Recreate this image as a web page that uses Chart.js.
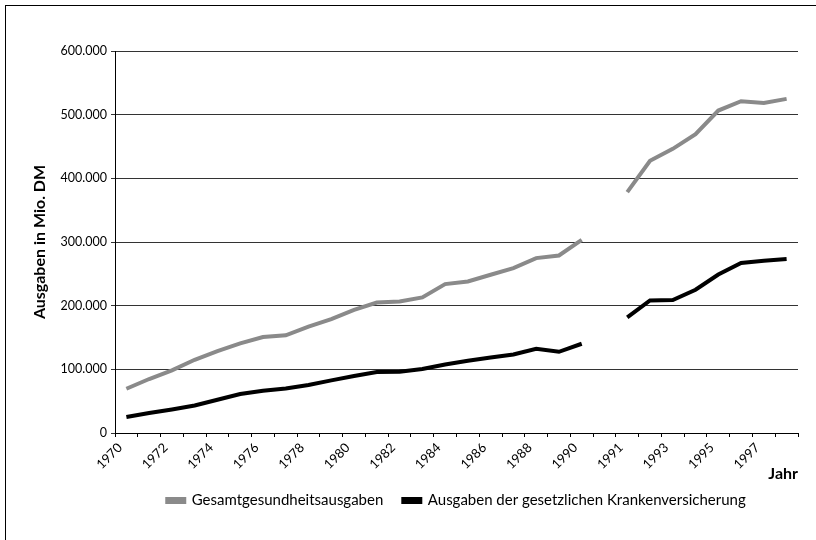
<!DOCTYPE html>
<html>
<head>
<meta charset="utf-8">
<script src="https://cdn.jsdelivr.net/npm/chart.js@4.4.0/dist/chart.umd.min.js"></script>
<style>
  body { margin: 0; background: #fff; overflow: hidden; }
  #wrap { position: relative; width: 816px; height: 540px; }
  #frame { position: absolute; left: 5px; top: 5px; width: 900px; height: 700px; border: 1px solid #000; }
  #myChart { position: absolute; left: 0; top: 0; }
</style>
</head>
<body>
<div id="wrap">
  <div id="frame"></div>
  <canvas id="myChart" width="816" height="540"></canvas>
</div>
<script>
// 30 slots: 1970-1990, an empty slot (break), 1991-1998
const years = [
  '1970', '1971', '1972', '1973', '1974', '1975', '1976', '1977', '1978', '1979',
  '1980', '1981', '1982', '1983', '1984', '1985', '1986', '1987', '1988', '1989',
  '1990', '', '1991', '1992', '1993', '1994', '1995', '1996', '1997', '1998'
];

// labels printed at every 2nd slot boundary
const tickLabels = [
  '1970', '1972', '1974', '1976', '1978', '1980', '1982', '1984', '1986', '1988',
  '1990', '1991', '1993', '1995', '1997'
];

// Mio. DM
const gesamt = [
  69500, 84800, 98300, 115000, 128700, 140700, 150700, 153500, 167000, 179000,
  193500, 205000, 206600, 212900, 233900, 238000, 248500, 259000, 274700, 278800,
  303500, null, 378300, 427500, 446300, 469400, 506500, 521200, 518500, 524800
];

const gkv = [
  25000, 31400, 37000, 43300, 52300, 61200, 66400, 70000, 75300, 82600,
  89500, 95700, 96200, 100400, 107700, 113500, 118700, 123400, 132300, 127600,
  140200, null, 181500, 208200, 208800, 225000, 249000, 266900, 270500, 273200
];

const yTicks = [0, 100000, 200000, 300000, 400000, 500000, 600000];

function toPoints(values) {
  return values.map((v, i) => ({ x: i + 0.5, y: v }));
}

function formatDE(v) {
  return String(v).replace(/\B(?=(\d{3})+(?!\d))/g, '.');
}

Chart.defaults.font.family = 'Lato, "Noto Sans", sans-serif';
Chart.defaults.color = '#000';

const ctx = document.querySelector('#myChart').getContext('2d');

const data = {
  datasets: [
    {
      label: 'Gesamtgesundheitsausgaben',
      data: toPoints(gesamt),
      borderColor: '#8a8a8a',
      backgroundColor: '#8a8a8a',
      borderWidth: 4,
      pointRadius: 0,
      spanGaps: false,
    },
    {
      label: 'Ausgaben der gesetzlichen Krankenversicherung',
      data: toPoints(gkv),
      borderColor: '#000',
      backgroundColor: '#000',
      borderWidth: 4,
      pointRadius: 0,
      spanGaps: false,
    },
  ],
};

const config = {
  type: 'line',
  data: data,
  options: {
    responsive: false,
    animation: false,
    layout: { padding: { left: 27, right: 18, top: 51, bottom: 22 } },
    plugins: {
      tooltip: { enabled: false },
      legend: {
        position: 'bottom',
        fullSize: false,
        labels: {
          boxWidth: 17,
          boxHeight: 3,
          padding: 20,
          font: { size: 15 },
          color: '#000',
        },
      },
    },
    scales: {
      x: {
        type: 'linear',
        min: 0,
        max: years.length,
        // tall enough so the rotated labels are not clipped
        afterFit: (scale) => { scale.height = 40; },
        ticks: {
          stepSize: 1,
          autoSkip: false,
          maxRotation: 45,
          minRotation: 45,
          padding: 3,
          labelOffset: 5,
          font: { size: 13 },
          callback: (value) => {
            const k = value / 2;
            return Number.isInteger(k) && k < tickLabels.length ? tickLabels[k] : '';
          },
        },
        grid: { drawOnChartArea: false, drawTicks: true, tickLength: 4, color: '#000' },
        border: { color: '#000', width: 1 },
        title: {
          display: true,
          text: 'Jahr',
          align: 'end',
          font: { size: 16, weight: 'bold' },
          color: '#000',
          padding: { top: 0, bottom: -10 },
        },
      },
      y: {
        min: 0,
        max: 600000,
        afterFit: (scale) => { scale.width = 88; },
        afterBuildTicks: (scale) => { scale.ticks = yTicks.map(v => ({ value: v })); },
        ticks: {
          font: { size: 12.5 },
          padding: 4,
          callback: (value) => formatDE(value),
        },
        grid: { color: '#333', lineWidth: 1, tickLength: 4 },
        border: { color: '#000', width: 1 },
        title: {
          display: true,
          text: 'Ausgaben in Mio. DM',
          font: { size: 16, weight: 'bold' },
          color: '#000',
          padding: { top: 3, bottom: 4 },
        },
      },
    },
  },
};

const myChart = new Chart(ctx, config);
</script>
</body>
</html>
